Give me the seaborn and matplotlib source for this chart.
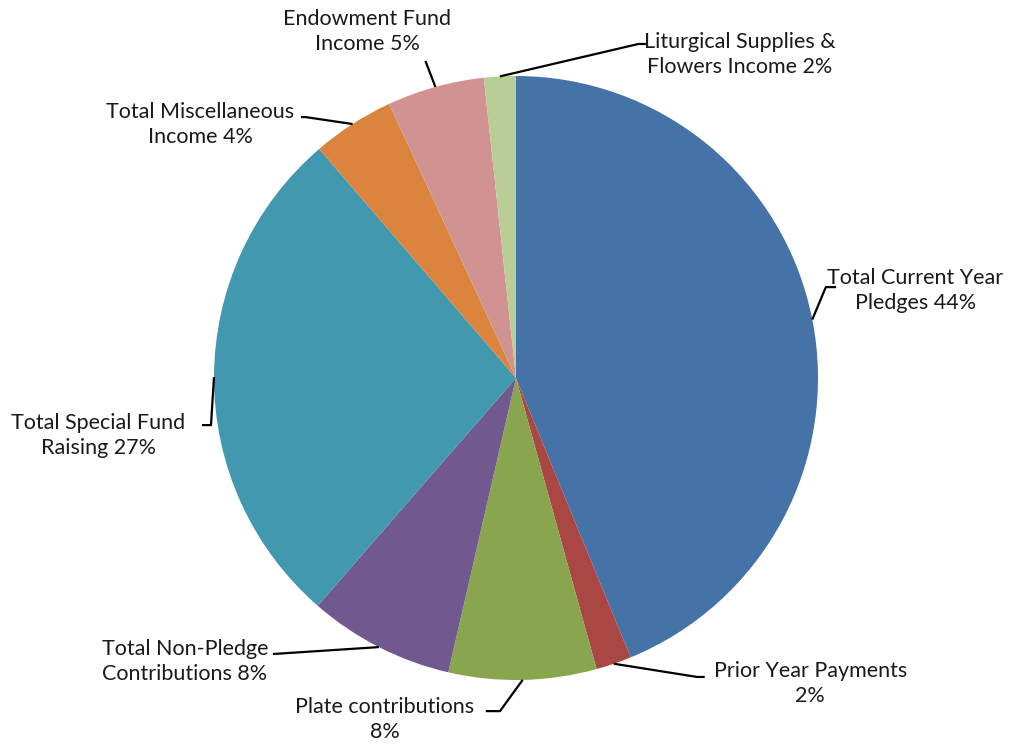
import numpy as np
import matplotlib
matplotlib.use("Agg")
import matplotlib.pyplot as plt
import seaborn as sns

labels = ["Total Current Year\nPledges", "Prior Year Payments\n", "Plate contributions\n",
          "Total Non-Pledge\nContributions", "Total Special Fund\nRaising",
          "Total Miscellaneous\nIncome", "Endowment Fund\nIncome",
          "Liturgical Supplies &\nFlowers Income"]
values = [43.8, 1.9, 7.9, 7.8, 27.3, 4.4, 5.2, 1.7]
pct_labels = ["44%", "2%", "8%", "8%", "27%", "4%", "5%", "2%"]
colors = ["#4572A7", "#AA4643", "#89A54E", "#71588F", "#4198AF", "#DB843D", "#D19392", "#B9CD96"]

sns.set_theme(style="white")
plt.rcParams['font.family'] = ['Lato', 'DejaVu Sans']

fig = plt.figure(figsize=(10.26, 7.5), dpi=100)
ax = fig.add_axes([0, 0, 1, 1])
pal = sns.color_palette(colors)
wedges, _ = ax.pie(values, colors=pal, startangle=90, counterclock=False,
                   radius=1.0, center=(0, 0), wedgeprops=dict(linewidth=0))
ax.set_xlim(-516/302, 510/302)
ax.set_ylim(-372/302, 378/302)
ax.set_aspect('equal')
ax.axis('off')

# layout: (text center x, y, elbow x, elbow y, line end x)
layout = [
    (1.323, 0.290, 1.026, 0.301, 1.06),
    (0.974, -1.012, 0.600, -0.990, 0.625),
    (-0.434, -1.132, -0.053, -1.103, -0.10),
    (-1.096, -0.940, -0.805, -0.914, -0.805),
    (-1.384, -0.190, -1.010, -0.156, -1.040),
    (-1.046, 0.838, -0.697, 0.864, -0.712),
    (-0.493, 1.146, -0.300, 1.050, -0.300),
    (0.742, 1.070, 0.405, 1.106, 0.430),
]

for w, lab, pct, (tx, ty, ex, ey, lx) in zip(wedges, labels, pct_labels, layout):
    mid = np.deg2rad((w.theta1 + w.theta2) / 2)
    px, py = np.cos(mid), np.sin(mid)
    ax.plot([px, ex, lx], [py, ey, ey], color="black", lw=1.6, solid_capstyle='butt')
    first, second = lab.split("\n")
    if second:
        text = f"{first}\n{second} {pct}"
    else:
        text = f"{first}\n{pct}"
    ax.text(tx, ty, text, ha='center', va='center', fontsize=15.5,
            color="#1a1a1a", linespacing=1.32)

fig.savefig("out.png", dpi=100, facecolor="white")
